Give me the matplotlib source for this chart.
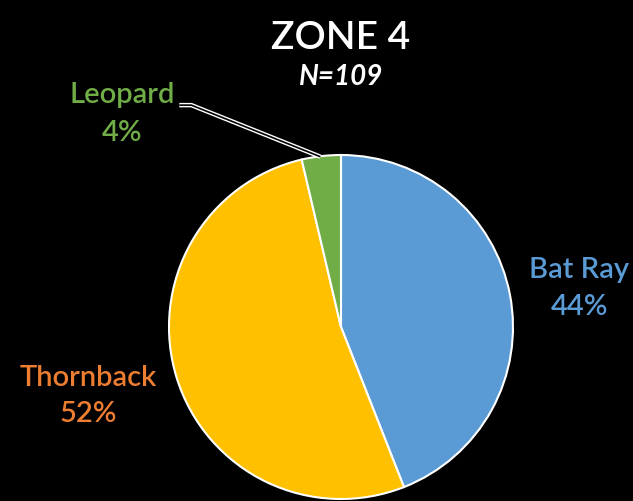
import matplotlib
matplotlib.use("Agg")
import matplotlib.pyplot as plt

# datos
species = ["Bat Ray", "Thornback", "Leopard"]
counts = [48, 57, 4]
pct_labels = ["44%", "52%", "4%"]
slice_colors = ["#5B9BD5", "#FFC000", "#70AD47"]
label_colors = ["#5B9BD5", "#ED7D31", "#70AD47"]
title = "ZONE 4"
subtitle = "N=109"

plt.rcParams["font.family"] = ["Lato", "DejaVu Sans"]

W, H = 633, 502
fig = plt.figure(figsize=(W / 100, H / 100), dpi=100, facecolor="black")

cx, cy, r = 341, 328, 172
ax = fig.add_axes([(cx - r) / W, (H - cy - r) / H, 2 * r / W, 2 * r / H])
ax.set_facecolor("black")
ax.pie(counts, colors=slice_colors, startangle=90, counterclock=False,
       wedgeprops=dict(edgecolor="white", linewidth=1.5))
ax.set_xlim(-1, 1)
ax.set_ylim(-1, 1)
ax.set_aspect("equal")
ax.axis("off")

fs = 21
# etiquetas (posiciones en coords de datos)
pos = [(1.384, 0.34, 0.12), (-1.471, -0.29, -0.5), (-1.273, 1.355, 1.134)]
for name, pct, col, (x, y1, y2) in zip(species, pct_labels, label_colors, pos):
    ax.text(x, y1, name, color=col, fontsize=fs, ha="center", va="center",
            fontweight="semibold", clip_on=False)
    ax.text(x, y2, pct, color=col, fontsize=fs, ha="center", va="center",
            fontweight="semibold", clip_on=False)

# línea guía Leopard
gx = [-0.94, -0.87, -0.12]
gy = [1.29, 1.29, 0.99]
ax.plot(gx, gy, color="white", lw=3.2, clip_on=False, solid_capstyle="butt")
ax.plot(gx, gy, color="black", lw=1.2, clip_on=False, solid_capstyle="butt")

fig.text(cx / W, 1 - 38 / H, title, color="white", fontsize=28, ha="center", va="center",
         fontweight="semibold")
fig.text(cx / W, 1 - 77 / H, subtitle, color="white", fontsize=20, ha="center", va="center",
         fontweight="bold", fontstyle="italic")

fig.savefig("out.png", dpi=100, facecolor="black")
